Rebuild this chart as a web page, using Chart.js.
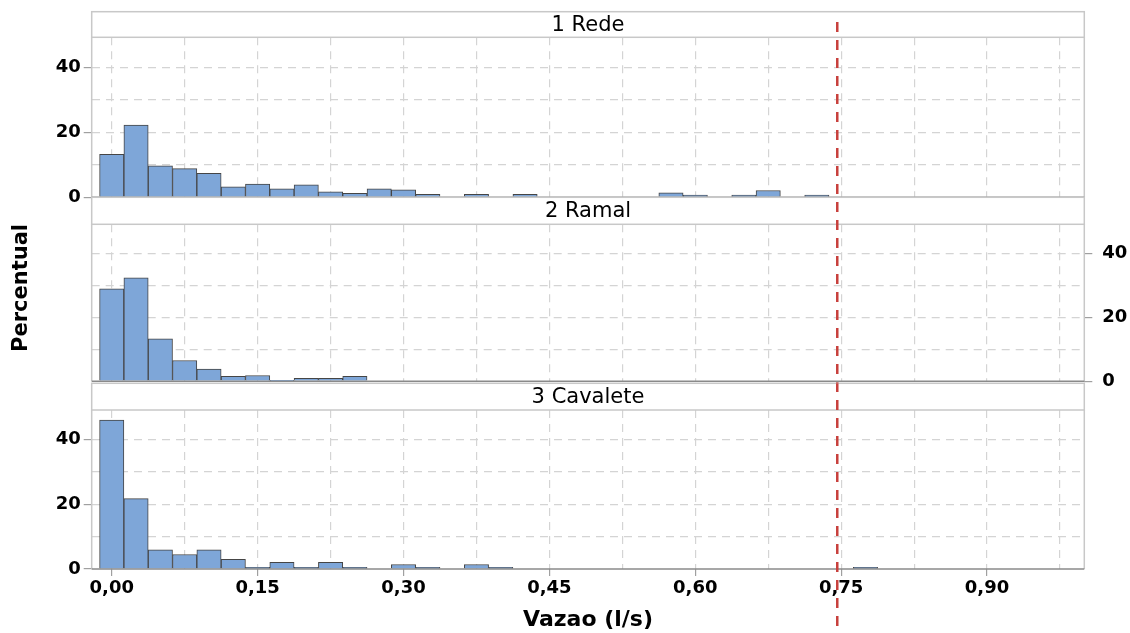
<!DOCTYPE html>
<html>
<head>
<meta charset="utf-8">
<script src="https://cdn.jsdelivr.net/npm/chart.js@4.4.1/dist/chart.umd.min.js"></script>
<style>
  html, body { margin: 0; padding: 0; background: #fff; }
  #wrap { position: relative; width: 1130px; height: 633px; overflow: hidden; }
  .pane { position: absolute; left: 0; width: 1130px; }
</style>
</head>
<body>
<div id="wrap">
  <div class="pane" style="top:0px;height:212px"><canvas id="c1"></canvas></div>
  <div class="pane" style="top:190px;height:212px"><canvas id="c2"></canvas></div>
  <div class="pane" style="top:370px;height:263px"><canvas id="c3"></canvas></div>
</div>
<script>
// bin centres (l/s), bin width 0.025
const binCenters = [0.000, 0.025, 0.050, 0.075, 0.100, 0.125, 0.150, 0.175,
  0.200, 0.225, 0.250, 0.275, 0.300, 0.325, 0.350, 0.375,
  0.400, 0.425, 0.450, 0.475, 0.500, 0.525, 0.550, 0.575,
  0.600, 0.625, 0.650, 0.675, 0.700, 0.725, 0.750, 0.775];

// percentual per bin
const redeValues = [13.2, 22.2, 9.7, 8.8, 7.4, 3.2, 4.1, 2.6,
  3.8, 1.7, 1.2, 2.6, 2.3, 0.9, 0, 0.9,
  0, 0.9, 0, 0, 0, 0, 0, 1.4,
  0.7, 0, 0.7, 2.1, 0, 0.7, 0, 0];
const ramalValues = [29.0, 32.4, 13.3, 6.5, 3.8, 1.5, 1.8, 0.3,
  0.9, 0.9, 1.5, 0, 0, 0, 0, 0,
  0, 0, 0, 0, 0, 0, 0, 0,
  0, 0, 0, 0, 0, 0, 0, 0];
const cavaleteValues = [46.1, 21.8, 5.9, 4.5, 5.9, 3.0, 0.5, 2.1,
  0.5, 2.1, 0.5, 0, 1.4, 0.5, 0, 1.4,
  0.5, 0, 0, 0, 0, 0, 0, 0,
  0, 0, 0, 0, 0, 0, 0, 0.5];

const panelTitles = ['1 Rede', '2 Ramal', '3 Cavalete'];
const xGridValues = [0, 0.075, 0.15, 0.225, 0.30, 0.375, 0.45, 0.525, 0.60, 0.675, 0.75, 0.825, 0.90, 0.975];
const xTickValues = [0, 0.15, 0.30, 0.45, 0.60, 0.75, 0.90];
const xTickLabels = ['0,00', '0,15', '0,30', '0,45', '0,60', '0,75', '0,90'];
const yGridValues = [0, 10, 20, 30, 40];
const yTickLabels = ['0', '20', '40'];
const limitValue = 0.746;

const xLabelFor = (v) => {
  const i = xTickValues.findIndex(t => Math.abs(t - v) < 1e-6);
  return i >= 0 ? xTickLabels[i] : '';
};
const clear = 'rgba(0,0,0,0)';
const DASH_START = 22, DASH_PERIOD = 18;

const panelPlugin = {
  id: 'panel',
  afterDraw(chart, args, opts) {
    const {ctx, chartArea: a, scales: {x}} = chart;
    ctx.save();
    // header strip
    ctx.fillStyle = '#fff';
    ctx.fillRect(a.left, opts.headerTop, a.right - a.left, a.top - opts.headerTop);
    ctx.strokeStyle = '#c8c8c8';
    ctx.lineWidth = 1.5;
    ctx.strokeRect(a.left, opts.headerTop, a.right - a.left, a.top - opts.headerTop);
    ctx.beginPath();
    ctx.moveTo(a.left, a.top); ctx.lineTo(a.left, a.bottom);
    ctx.moveTo(a.right, a.top); ctx.lineTo(a.right, a.bottom);
    ctx.stroke();
    // baseline
    ctx.strokeStyle = '#8a8a8a';
    ctx.beginPath();
    ctx.moveTo(a.left, a.bottom); ctx.lineTo(a.right, a.bottom);
    ctx.stroke();
    // title
    ctx.fillStyle = '#000';
    ctx.font = '21px "DejaVu Sans"';
    ctx.textAlign = 'center';
    ctx.textBaseline = 'middle';
    ctx.fillText(opts.title, (a.left + a.right) / 2, (opts.headerTop + a.top) / 2 + 1);
    // y title (only on middle panel)
    if (opts.yTitle) {
      ctx.save();
      ctx.translate(opts.yTitle.x, opts.yTitle.y);
      ctx.rotate(-Math.PI / 2);
      ctx.font = 'bold 21px "DejaVu Sans"';
      ctx.fillText(opts.yTitle.text, 0, 0);
      ctx.restore();
    }
    // limit line
    const rx = x.getPixelForValue(limitValue);
    ctx.strokeStyle = '#c8403c';
    ctx.lineWidth = 2.5;
    ctx.setLineDash([10, 8]);
    ctx.lineDashOffset = (opts.absTop + opts.redTop - DASH_START) % DASH_PERIOD;
    ctx.beginPath();
    ctx.moveTo(rx, opts.redTop);
    ctx.lineTo(rx, opts.redBottom);
    ctx.stroke();
    ctx.restore();
  }
};

const makePanel = (id, values, p) => {
  const ctx = document.getElementById(id).getContext('2d');
  const left = p.yPos === 'left';
  return new Chart(ctx, {
    type: 'bar',
    data: {
      datasets: [{
        data: binCenters.map((c, i) => ({x: c, y: values[i]})),
        backgroundColor: '#7ea6d8',
        borderColor: '#454545',
        borderWidth: 1,
        barPercentage: 1,
        categoryPercentage: 1
      }]
    },
    options: {
      responsive: true,
      maintainAspectRatio: false,
      animation: false,
      layout: {padding: p.padding},
      plugins: {
        legend: {display: false},
        tooltip: {enabled: false},
        panel: p.frame
      },
      scales: {
        x: {
          type: 'linear',
          min: -0.0206,
          max: 1.0,
          offset: false,
          afterBuildTicks: (s) => { s.ticks = xGridValues.map(v => ({value: v})); },
          afterFit: (s) => { s.height = p.showX ? 64 : 12; },
          grid: {
            offset: false,
            color: '#d4d4d4',
            lineWidth: 1.2,
            drawTicks: p.showX,
            tickLength: 7,
            tickColor: (c) => xLabelFor(c.tick.value) ? '#a0a0a0' : clear
          },
          border: {display: false, dash: [8, 6]},
          ticks: {
            display: p.showX,
            autoSkip: false,
            maxRotation: 0,
            padding: 2,
            color: '#000',
            font: {family: 'DejaVu Sans', weight: 'bold', size: 18},
            callback: (v) => xLabelFor(v)
          },
          title: {
            display: p.showX,
            text: 'Vazao (l/s)',
            color: '#000',
            padding: 0,
            font: {family: 'DejaVu Sans', weight: 'bold', size: 22}
          }
        },
        y: {
          position: p.yPos,
          min: 0,
          max: 49.2,
          afterBuildTicks: (s) => { s.ticks = yGridValues.map(v => ({value: v})); },
          afterFit: (s) => { s.width = left ? 91.7 : 45.7; },
          grid: {
            color: (c) => c.tick.value === 0 ? clear : '#d4d4d4',
            lineWidth: 1.2,
            tickLength: 8,
            tickColor: (c) => yTickLabels.includes(String(c.tick.value)) ? '#a0a0a0' : clear
          },
          border: {display: false, dash: [8, 6]},
          ticks: {
            autoSkip: false,
            padding: left ? 3 : 10,
            color: '#000',
            font: {family: 'DejaVu Sans', weight: 'bold', size: 18},
            callback: (v) => yTickLabels.includes(String(v)) ? String(v) : ''
          }
        }
      }
    },
    plugins: [panelPlugin]
  });
};

makePanel('c1', redeValues, {
  yPos: 'left', showX: false,
  padding: {top: 37.3, bottom: 2.7, left: 0, right: 45.7},
  frame: {title: panelTitles[0], headerTop: 11.7, absTop: 0, redTop: 22, redBottom: 197.3}
});
makePanel('c2', ramalValues, {
  yPos: 'right', showX: false,
  padding: {top: 34.3, bottom: 7.7, left: 91.7, right: 0},
  frame: {title: panelTitles[1], headerTop: 7.3, absTop: 190, redTop: 7.3, redBottom: 193.3,
    yTitle: {text: 'Percentual', x: 22, y: 98}}
});
makePanel('c3', cavaleteValues, {
  yPos: 'left', showX: true,
  padding: {top: 40, bottom: 0, left: 0, right: 45.7},
  frame: {title: panelTitles[2], headerTop: 13.3, absTop: 370, redTop: 13.3, redBottom: 263}
});
</script>
</body>
</html>
